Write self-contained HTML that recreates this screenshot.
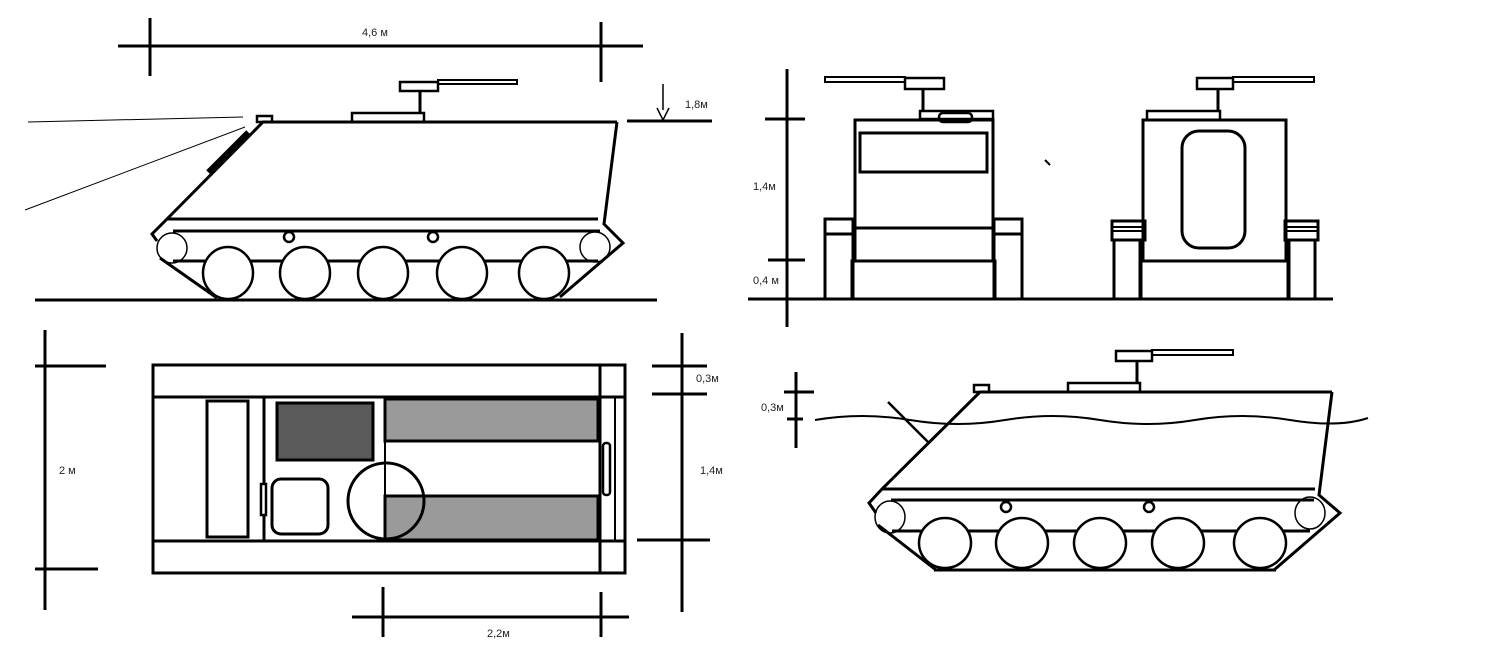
<!DOCTYPE html>
<html><head><meta charset="utf-8"><style>html,body{margin:0;padding:0;background:#fff}svg{display:block}text{font-family:"Liberation Sans",sans-serif;font-size:11px;fill:#222}</style></head>
<body>
<svg width="1492" height="646" viewBox="0 0 1492 646" xmlns="http://www.w3.org/2000/svg">
<g fill="none" stroke="#000" stroke-width="3">
<!-- SIDE VIEW 1 -->
<line x1="118" y1="46" x2="643" y2="46"/>
<line x1="150" y1="18" x2="150" y2="76"/>
<line x1="601" y1="22" x2="601" y2="82"/>
<line x1="627" y1="121" x2="712" y2="121"/>
<line x1="35" y1="300" x2="657" y2="300"/>
<rect x="400" y="82" width="38" height="9" stroke-width="2.5"/>
<rect x="438" y="80" width="79" height="4" stroke-width="2"/>
<line x1="420" y1="91" x2="420" y2="113"/>
<rect x="352" y="113" width="72" height="9" stroke-width="2.5"/>
<rect x="257" y="116" width="15" height="6" stroke-width="2.5"/>
<polyline points="617,122 263,122 167,219 152,234 157,241"/>
<line x1="167" y1="219" x2="598" y2="219"/>
<polyline points="617,122 604,224 623,243 560,297"/>
<line x1="173" y1="231" x2="600" y2="231"/>
<line x1="160" y1="258" x2="217" y2="298"/>
<line x1="173" y1="261" x2="598" y2="261"/>
<line x1="208" y1="172" x2="248" y2="132" stroke-width="5"/>
<circle cx="172" cy="248" r="15" stroke-width="1.5"/>
<circle cx="595" cy="247" r="15" stroke-width="1.5"/>
<g fill="#fff"><ellipse cx="228" cy="273" rx="25" ry="26" stroke-width="2.5"/><ellipse cx="305" cy="273" rx="25" ry="26" stroke-width="2.5"/><ellipse cx="383" cy="273" rx="25" ry="26" stroke-width="2.5"/><ellipse cx="462" cy="273" rx="25" ry="26" stroke-width="2.5"/><ellipse cx="544" cy="273" rx="25" ry="26" stroke-width="2.5"/></g>
<circle cx="289" cy="237" r="5" stroke-width="2.5"/>
<circle cx="433" cy="237" r="5" stroke-width="2.5"/>
<line x1="28" y1="122" x2="243" y2="117" stroke-width="1"/>
<line x1="25" y1="210" x2="245" y2="127" stroke-width="1"/>
<line x1="663" y1="84" x2="663" y2="110" stroke-width="1.5"/>
<polyline points="657,108 663,120 669,108" stroke-width="1.5"/>

<!-- TOP VIEW -->
<rect x="153" y="365" width="472" height="208"/>
<line x1="153" y1="397" x2="625" y2="397"/>
<line x1="153" y1="541" x2="625" y2="541"/>
<line x1="600" y1="365" x2="600" y2="573"/>
<line x1="615" y1="397" x2="615" y2="541" stroke-width="2"/>
<rect x="207" y="401" width="41" height="136"/>
<line x1="264" y1="397" x2="264" y2="541"/>
<rect x="261" y="484" width="5" height="31" stroke-width="2.5" fill="#fff"/>
<rect x="277" y="403" width="96" height="57" fill="#5a5a5a"/>
<rect x="385" y="399" width="213" height="42" fill="#9a9a9a"/>
<rect x="385" y="496" width="213" height="44" fill="#9a9a9a"/>
<line x1="385" y1="441" x2="385" y2="496" stroke-width="2"/>
<rect x="272" y="479" width="56" height="55" rx="9"/>
<circle cx="386" cy="501" r="38"/>
<rect x="603" y="443" width="7" height="52" rx="3" stroke-width="2.5"/>
<line x1="45" y1="330" x2="45" y2="610"/>
<line x1="35" y1="366" x2="106" y2="366"/>
<line x1="35" y1="569" x2="98" y2="569"/>
<line x1="682" y1="333" x2="682" y2="612"/>
<line x1="652" y1="366" x2="707" y2="366"/>
<line x1="652" y1="394" x2="707" y2="394"/>
<line x1="637" y1="540" x2="710" y2="540"/>
<line x1="352" y1="617" x2="629" y2="617"/>
<line x1="383" y1="587" x2="383" y2="637"/>
<line x1="601" y1="592" x2="601" y2="637"/>

<!-- FRONT VIEWS -->
<line x1="787" y1="69" x2="787" y2="327"/>
<line x1="765" y1="119" x2="805" y2="119"/>
<line x1="768" y1="260" x2="805" y2="260"/>
<line x1="748" y1="299" x2="1333" y2="299"/>
<rect x="825" y="77" width="80" height="5" stroke-width="2"/>
<rect x="905" y="78" width="39" height="11" stroke-width="2.5"/>
<line x1="923" y1="89" x2="923" y2="111"/>
<rect x="920" y="111" width="73" height="8" stroke-width="2.5"/>
<rect x="939" y="113" width="33" height="9" rx="4" stroke-width="2.5"/>
<rect x="855" y="120" width="138" height="141"/>
<rect x="860" y="133" width="127" height="39"/>
<line x1="855" y1="228" x2="993" y2="228"/>
<rect x="852" y="261" width="143" height="38"/>
<rect x="825" y="219" width="28" height="80"/>
<line x1="825" y1="234" x2="853" y2="234"/>
<rect x="994" y="219" width="28" height="80"/>
<line x1="994" y1="234" x2="1022" y2="234"/>

<rect x="1197" y="78" width="36" height="11" stroke-width="2.5"/>
<rect x="1233" y="77" width="81" height="5" stroke-width="2"/>
<line x1="1218" y1="89" x2="1218" y2="111"/>
<rect x="1147" y="111" width="73" height="9" stroke-width="2.5"/>
<rect x="1143" y="120" width="143" height="141"/>
<rect x="1182" y="131" width="63" height="117" rx="17"/>
<rect x="1141" y="261" width="147" height="38"/>
<rect x="1114" y="240" width="26" height="59"/>
<rect x="1112" y="221" width="33" height="19"/>
<line x1="1112" y1="227" x2="1145" y2="227" stroke-width="2"/>
<line x1="1112" y1="231" x2="1145" y2="231" stroke-width="2"/>
<rect x="1289" y="240" width="26" height="59"/>
<rect x="1285" y="221" width="33" height="19"/>
<line x1="1285" y1="227" x2="1318" y2="227" stroke-width="2"/>
<line x1="1285" y1="231" x2="1318" y2="231" stroke-width="2"/>
<line x1="1045" y1="160" x2="1050" y2="165" stroke-width="2"/>

<!-- WATER VIEW -->
<line x1="796" y1="372" x2="796" y2="448"/>
<line x1="784" y1="392" x2="814" y2="392"/>
<line x1="787" y1="419" x2="803" y2="419"/>
<rect x="1116" y="351" width="36" height="10" stroke-width="2.5"/>
<rect x="1152" y="350" width="81" height="5" stroke-width="2"/>
<line x1="1137" y1="361" x2="1137" y2="383"/>
<rect x="1068" y="383" width="72" height="9" stroke-width="2.5"/>
<rect x="974" y="385" width="15" height="7" stroke-width="2.5"/>
<polyline points="1332,392 980,392 882,489 869,503 876,513"/>
<line x1="882" y1="489" x2="1315" y2="489"/>
<polyline points="1332,392 1319,495 1340,513 1274,570"/>
<line x1="891" y1="500" x2="1314" y2="500"/>
<line x1="878" y1="525" x2="936" y2="570"/>
<line x1="934" y1="570" x2="1276" y2="570"/>
<line x1="892" y1="531" x2="1310" y2="531"/>
<ellipse cx="890" cy="517" rx="15" ry="16" stroke-width="1.5"/>
<ellipse cx="1310" cy="513" rx="15" ry="16" stroke-width="1.5"/>
<g fill="#fff"><ellipse cx="945" cy="543" rx="26" ry="25" stroke-width="2.5"/><ellipse cx="1022" cy="543" rx="26" ry="25" stroke-width="2.5"/><ellipse cx="1100" cy="543" rx="26" ry="25" stroke-width="2.5"/><ellipse cx="1178" cy="543" rx="26" ry="25" stroke-width="2.5"/><ellipse cx="1260" cy="543" rx="26" ry="25" stroke-width="2.5"/></g>
<circle cx="1006" cy="507" r="5" stroke-width="2.5"/>
<circle cx="1149" cy="507" r="5" stroke-width="2.5"/>
<line x1="888" y1="402" x2="928" y2="442" stroke-width="2.5"/>
<path d="M815,420 Q862,412 910,420 T1005,420 T1100,420 T1195,420 T1290,420 T1368,418" stroke-width="2"/>
</g>
<text x="362" y="36">4,6 м</text>
<text x="685" y="108">1,8м</text>
<text x="753" y="190">1,4м</text>
<text x="753" y="284">0,4 м</text>
<text x="59" y="474">2 м</text>
<text x="696" y="382">0,3м</text>
<text x="700" y="474">1,4м</text>
<text x="487" y="637">2,2м</text>
<text x="761" y="411">0,3м</text>
</svg>
</body></html>
